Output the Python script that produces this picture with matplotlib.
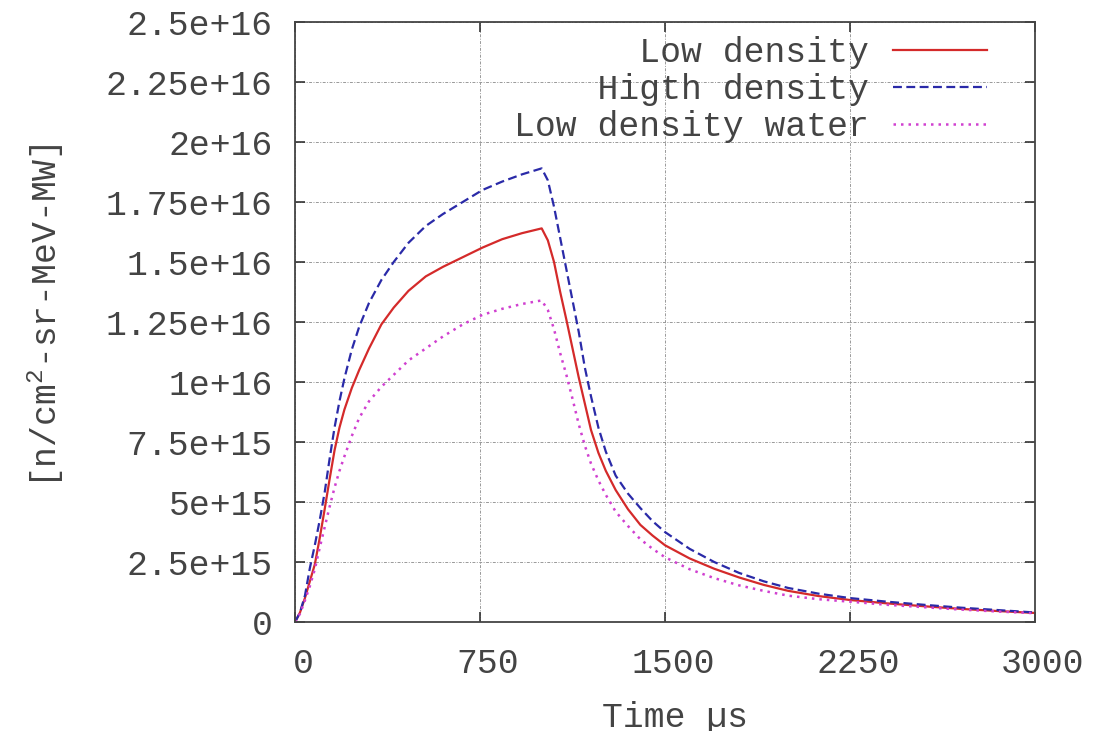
import matplotlib
matplotlib.use('Agg')
import matplotlib.pyplot as plt
import matplotlib.transforms as mtransforms

# time in microseconds, flux in units of 1e15
time_us = [0, 20, 40, 60, 80, 100, 120, 140, 160, 180, 200, 230, 260, 300,
           350, 400, 460, 530, 600, 680, 760, 840, 920, 1000, 1025, 1050,
           1075, 1100, 1125, 1150, 1175, 1200, 1230, 1260, 1300, 1350, 1400,
           1450, 1500, 1600, 1700, 1800, 1900, 2000, 2125, 2250, 2400, 2550,
           2700, 2850, 3000]
low_density = [0, 0.4, 1.0, 1.7, 2.4, 3.5, 4.7, 5.95, 7.15, 8.1, 8.85, 9.75,
               10.5, 11.4, 12.4, 13.1, 13.8, 14.4, 14.8, 15.2, 15.6, 15.95,
               16.2, 16.4, 15.9, 15.0, 13.75, 12.6, 11.4, 10.2, 9.1, 8.0,
               7.05, 6.3, 5.5, 4.7, 4.05, 3.6, 3.2, 2.65, 2.22, 1.86, 1.55,
               1.3, 1.08, 0.92, 0.78, 0.66, 0.55, 0.46, 0.38]
high_density = [0, 0.4, 1.1, 2.25, 3.2, 4.25, 5.4, 6.8, 8.1, 9.2, 10.15,
                11.35, 12.3, 13.3, 14.25, 15.0, 15.8, 16.5, 17.0, 17.5, 18.0,
                18.35, 18.65, 18.9, 18.4, 17.3, 16.0, 14.7, 13.4, 12.1, 10.6,
                9.4, 8.1, 7.1, 6.1, 5.35, 4.75, 4.2, 3.75, 3.05, 2.5, 2.05,
                1.7, 1.42, 1.18, 1.0, 0.85, 0.72, 0.6, 0.5, 0.4]
low_density_water = [0, 0.35, 0.9, 1.5, 2.2, 3.1, 3.95, 4.8, 5.6, 6.3, 6.9,
                     7.75, 8.5, 9.2, 9.8, 10.3, 10.9, 11.4, 11.9, 12.4, 12.8,
                     13.05, 13.25, 13.4, 13.0, 12.2, 11.2, 10.3, 9.3, 8.25,
                     7.35, 6.6, 5.9, 5.3, 4.6, 4.0, 3.45, 3.05, 2.7, 2.2,
                     1.83, 1.53, 1.3, 1.1, 0.95, 0.85, 0.72, 0.62, 0.52, 0.44,
                     0.37]

labels = ['Low density', 'Higth density', 'Low density water']
xticks = [0, 750, 1500, 2250, 3000]
yticks = [0, 2.5e15, 5e15, 7.5e15, 1e16, 1.25e16, 1.5e16, 1.75e16, 2e16,
          2.25e16, 2.5e16]
ytick_labels = ['0', '2.5e+15', '5e+15', '7.5e+15', '1e+16', '1.25e+16',
                '1.5e+16', '1.75e+16', '2e+16', '2.25e+16', '2.5e+16']

plt.rcParams['font.family'] = ['Liberation Mono', 'DejaVu Sans Mono']
plt.rcParams['mathtext.default'] = 'regular'
FS = 25
TXT = '#444444'

fig = plt.figure(figsize=(11.01, 7.31), dpi=100)
ax = fig.add_axes([0.268, 0.149, 0.672, 0.821])

scale = 1e15
ax.plot(time_us, [v * scale for v in low_density], color='#d42a2a',
        lw=1.6, label=labels[0].rjust(17))
ax.plot(time_us, [v * scale for v in high_density], color='#2a2aa8',
        lw=1.6, ls=(0, (4, 2)), label=labels[1].rjust(17))
ax.plot(time_us, [v * scale for v in low_density_water], color='#d040d0',
        lw=1.8, ls=(0, (1, 2)), label=labels[2].rjust(17))

ax.set_xlim(0, 3000)
ax.set_ylim(0, 2.5e16)
ax.set_xticks(xticks)
ax.set_yticks(yticks)
ax.set_yticklabels(ytick_labels)

ax.grid(True, color='#999999', lw=0.7, ls=(0, (3, 1.5, 1, 1.5)))
ax.tick_params(direction='in', length=7, width=1.2, top=True, right=True,
               labelsize=FS, labelcolor=TXT, color='#333333')
ax.tick_params(axis='x', pad=18)
ax.tick_params(axis='y', pad=16)
for sp in ax.spines.values():
    sp.set_color('#444444')
    sp.set_linewidth(1.3)

# gnuplot puts the x tick labels a little right of the ticks
offset = mtransforms.ScaledTranslation(0.08, 0, fig.dpi_scale_trans)
for lab in ax.get_xticklabels():
    lab.set_transform(lab.get_transform() + offset)

ax.set_xlabel('Time \u00b5s', fontsize=FS, color=TXT)
ax.xaxis.set_label_coords(0.514, -0.13)
ax.set_ylabel('[n/cm$^2$-sr-MeV-MW]', fontsize=FS, color=TXT)
ax.yaxis.set_label_coords(-0.31, 0.51)

leg = ax.legend(loc='upper right', frameon=False, markerfirst=False,
                fontsize=FS, handlelength=2.7, handletextpad=0.7,
                labelspacing=0.12, borderaxespad=0.3,
                bbox_to_anchor=(0.968, 1.017))
for t in leg.get_texts():
    t.set_color(TXT)

fig.savefig('out.png', dpi=100)
